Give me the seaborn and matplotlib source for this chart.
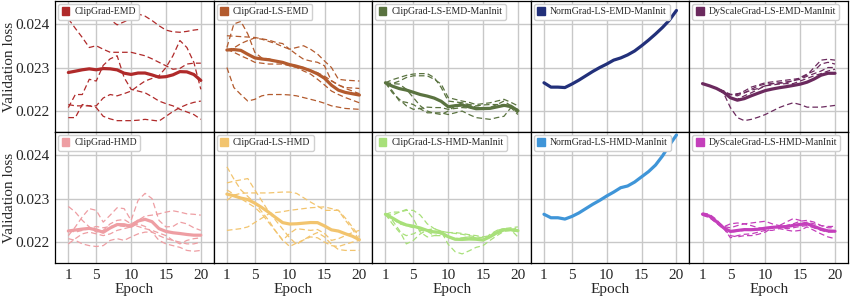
"""
Validation loss per epoch for the gradient-clipping variants, one panel per
method: dashed lines are single seeds, the thick line is their mean.
"""

import numpy as np
import pandas as pd
import seaborn as sns
from matplotlib import pyplot as plt
from matplotlib.patches import Patch
from matplotlib.ticker import FormatStrFormatter

# values are validation loss in units of 1e-3
epochs = list(range(1, 21))

clipgrad_emd = [
    [24.23, 24.33, 24.40, 24.42, 24.35, 24.23, 24.10, 23.98, 24.05, 24.12, 24.23, 24.18, 24.08, 23.96, 23.86, 23.82, 23.81, 23.83, 23.86, 23.88],
    [24.12, 23.90, 23.69, 23.46, 23.50, 23.42, 23.35, 23.35, 23.35, 23.35, 23.31, 23.27, 23.20, 23.12, 23.04, 22.96, 22.98, 23.08, 23.10, 23.10],
    [22.08, 22.38, 22.38, 22.73, 22.69, 23.05, 23.20, 23.27, 22.77, 22.50, 22.46, 22.42, 22.33, 22.23, 22.17, 22.12, 22.04, 21.98, 21.92, 21.81],
    [21.85, 21.85, 22.15, 22.12, 22.08, 21.88, 21.82, 21.78, 21.78, 21.78, 21.79, 21.81, 21.79, 21.77, 21.88, 21.99, 22.08, 22.15, 22.20, 22.23],
    [22.15, 22.12, 22.12, 22.12, 22.12, 22.30, 22.38, 22.35, 22.40, 22.46, 22.58, 22.69, 22.75, 22.81, 23.00, 23.27, 23.62, 23.46, 23.12, 22.50],
]
clipgrad_ls_emd = [
    [23.46, 24.00, 24.06, 23.77, 23.35, 23.22, 23.20, 23.15, 23.10, 23.08, 23.04, 23.00, 22.94, 22.88, 22.80, 22.70, 22.60, 22.52, 22.46, 22.40],
    [23.73, 23.72, 23.71, 23.70, 23.69, 23.66, 23.63, 23.58, 23.55, 23.42, 23.46, 23.50, 23.42, 23.31, 23.15, 23.00, 22.73, 22.71, 22.70, 22.69],
    [23.40, 23.45, 23.55, 23.62, 23.68, 23.65, 23.60, 23.55, 23.48, 23.42, 23.30, 23.19, 23.15, 23.12, 23.04, 22.69, 22.60, 22.54, 22.53, 22.52],
    [23.00, 22.54, 22.38, 22.23, 22.27, 22.35, 22.38, 22.38, 22.38, 22.37, 22.35, 22.31, 22.27, 22.23, 22.18, 22.12, 22.09, 22.06, 22.05, 22.04],
    [23.42, 23.35, 23.27, 23.20, 23.12, 23.10, 23.08, 23.08, 23.08, 23.04, 23.00, 22.92, 22.85, 22.73, 22.60, 22.46, 22.38, 22.31, 22.25, 22.19],
]
clipgrad_ls_emd_maninit = [
    [22.65, 22.72, 22.77, 22.82, 22.85, 22.86, 22.86, 22.77, 22.54, 22.23, 22.21, 22.19, 22.14, 22.09, 22.08, 22.08, 22.15, 22.23, 22.12, 22.00],
    [22.65, 22.63, 22.69, 22.77, 22.81, 22.81, 22.81, 22.73, 22.62, 22.31, 22.27, 22.23, 22.20, 22.15, 22.17, 22.19, 22.23, 22.27, 22.20, 22.12],
    [22.65, 22.46, 22.23, 22.20, 22.15, 22.05, 21.96, 21.96, 21.96, 21.92, 21.96, 22.00, 21.92, 21.85, 21.83, 21.81, 21.85, 21.88, 22.08, 21.96],
    [22.65, 22.42, 22.27, 22.12, 22.04, 22.06, 22.09, 22.08, 22.08, 22.04, 22.06, 22.08, 22.07, 22.06, 22.07, 22.08, 22.10, 22.12, 22.08, 22.04],
    [22.65, 22.63, 22.62, 22.50, 22.31, 22.12, 22.00, 21.95, 21.92, 22.00, 22.12, 22.19, 22.15, 22.12, 22.14, 22.15, 22.15, 22.15, 22.08, 21.92],
]
normgrad_ls_emd_maninit = [
    [22.65, 22.55, 22.55, 22.54, 22.62, 22.71, 22.81, 22.91, 23.00, 23.08, 23.17, 23.22, 23.29, 23.38, 23.50, 23.63, 23.77, 23.92, 24.09, 24.31],
]
dyscalegrad_ls_emd_maninit = [
    [22.63, 22.58, 22.52, 22.42, 22.38, 22.38, 22.46, 22.55, 22.60, 22.65, 22.67, 22.69, 22.71, 22.73, 22.75, 22.83, 23.00, 23.17, 23.19, 23.17],
    [22.63, 22.58, 22.52, 22.46, 22.38, 22.35, 22.42, 22.50, 22.58, 22.62, 22.63, 22.65, 22.67, 22.69, 22.77, 22.85, 22.92, 23.08, 23.12, 23.08],
    [22.63, 22.58, 22.52, 22.46, 22.38, 22.40, 22.42, 22.48, 22.52, 22.58, 22.63, 22.64, 22.65, 22.70, 22.73, 22.80, 22.86, 22.92, 23.00, 23.00],
    [22.63, 22.58, 22.52, 22.42, 22.08, 21.85, 21.78, 21.81, 21.86, 21.92, 22.00, 22.08, 22.14, 22.19, 22.15, 22.09, 22.09, 22.09, 22.11, 22.13],
    [22.63, 22.58, 22.52, 22.42, 22.31, 22.27, 22.35, 22.42, 22.50, 22.58, 22.60, 22.62, 22.63, 22.63, 22.69, 22.75, 22.81, 22.86, 22.92, 22.96],
]
clipgrad_hmd = [
    [22.82, 22.69, 22.50, 22.35, 22.23, 22.27, 22.42, 22.50, 22.52, 22.42, 22.50, 22.60, 22.62, 22.65, 22.69, 22.72, 22.69, 22.65, 22.64, 22.62],
    [22.15, 22.35, 22.58, 22.77, 22.73, 22.46, 22.62, 22.79, 22.77, 22.50, 22.96, 23.12, 23.00, 22.50, 22.35, 22.36, 22.46, 22.42, 22.33, 22.27],
    [21.96, 22.08, 22.19, 22.23, 22.19, 22.15, 22.19, 22.27, 22.31, 22.35, 22.42, 22.36, 22.23, 22.04, 21.96, 21.92, 21.88, 21.81, 21.79, 21.81],
    [22.08, 22.04, 21.96, 21.92, 21.90, 21.92, 22.04, 22.08, 22.04, 22.12, 22.19, 22.23, 22.23, 22.15, 22.08, 22.04, 22.00, 21.96, 21.96, 22.00],
    [22.27, 22.23, 22.27, 22.31, 22.36, 22.33, 22.36, 22.38, 22.36, 22.42, 22.36, 22.31, 22.27, 22.21, 22.15, 22.04, 21.96, 22.04, 22.08, 22.10],
]
clipgrad_ls_hmd = [
    [23.73, 23.45, 23.20, 23.05, 22.90, 22.70, 22.50, 22.25, 22.04, 22.20, 22.31, 22.29, 22.27, 22.29, 22.20, 22.04, 22.08, 22.15, 22.22, 22.27],
    [23.36, 23.40, 23.43, 23.46, 23.20, 22.95, 22.70, 22.50, 22.30, 22.10, 21.95, 22.05, 22.15, 22.22, 22.12, 21.95, 21.83, 21.81, 21.81, 21.81],
    [22.96, 23.08, 23.12, 23.13, 23.13, 23.13, 23.13, 23.14, 23.15, 23.15, 23.12, 23.02, 22.92, 22.83, 22.73, 22.73, 22.73, 22.50, 22.30, 22.04],
    [22.27, 22.29, 22.31, 22.35, 22.45, 22.55, 22.65, 22.68, 22.70, 22.73, 22.75, 22.77, 22.79, 22.80, 22.81, 22.77, 22.73, 22.55, 22.35, 22.12],
    [23.20, 23.10, 23.00, 22.90, 22.80, 22.65, 22.45, 22.25, 22.05, 21.90, 21.98, 22.05, 22.12, 22.10, 22.00, 21.92, 21.90, 21.95, 22.00, 22.04],
]
clipgrad_ls_hmd_maninit = [
    [22.64, 22.69, 22.69, 22.73, 22.73, 22.62, 22.42, 22.31, 22.25, 22.22, 22.22, 22.20, 22.17, 22.15, 22.12, 22.15, 22.27, 22.31, 22.33, 22.35],
    [22.64, 22.62, 22.69, 22.75, 22.54, 22.23, 22.12, 22.15, 22.19, 22.12, 22.05, 22.10, 22.12, 22.10, 22.05, 22.12, 22.19, 22.27, 22.28, 22.12],
    [22.64, 22.50, 22.27, 21.96, 22.04, 22.19, 22.28, 22.31, 22.25, 21.95, 21.78, 21.73, 21.80, 21.88, 21.92, 22.04, 22.15, 22.25, 22.27, 22.28],
    [22.64, 22.42, 22.23, 22.15, 22.19, 22.27, 22.25, 22.15, 22.15, 22.12, 22.08, 22.10, 22.12, 22.08, 22.05, 22.18, 22.27, 22.31, 22.27, 22.23],
    [22.64, 22.54, 22.42, 22.38, 22.33, 22.31, 22.27, 22.25, 22.25, 22.22, 22.20, 22.18, 22.15, 22.12, 22.10, 22.12, 22.21, 22.27, 22.28, 22.33],
]
normgrad_ls_hmd_maninit = [
    [22.64, 22.56, 22.56, 22.53, 22.59, 22.67, 22.77, 22.87, 22.96, 23.06, 23.15, 23.25, 23.29, 23.38, 23.50, 23.62, 23.77, 23.98, 24.23, 24.46],
]
dyscalegrad_ls_hmd_maninit = [
    [22.67, 22.64, 22.52, 22.33, 22.10, 22.15, 22.18, 22.19, 22.23, 22.27, 22.27, 22.31, 22.28, 22.25, 22.27, 22.35, 22.27, 22.19, 22.12, 22.08],
    [22.64, 22.58, 22.46, 22.35, 22.42, 22.44, 22.42, 22.44, 22.46, 22.48, 22.42, 22.38, 22.36, 22.38, 22.42, 22.46, 22.42, 22.38, 22.36, 22.36],
    [22.64, 22.59, 22.44, 22.31, 22.15, 22.12, 22.15, 22.15, 22.18, 22.23, 22.33, 22.38, 22.46, 22.54, 22.50, 22.42, 22.33, 22.27, 22.23, 22.25],
    [22.64, 22.62, 22.50, 22.36, 22.33, 22.38, 22.42, 22.38, 22.33, 22.31, 22.33, 22.35, 22.38, 22.42, 22.48, 22.50, 22.46, 22.38, 22.33, 22.33],
    [22.62, 22.56, 22.44, 22.31, 22.23, 22.25, 22.27, 22.27, 22.28, 22.31, 22.35, 22.33, 22.31, 22.33, 22.36, 22.38, 22.33, 22.28, 22.25, 22.23],
]

method_names = [
    'ClipGrad-EMD', 'ClipGrad-LS-EMD', 'ClipGrad-LS-EMD-ManInit',
    'NormGrad-LS-EMD-ManInit', 'DyScaleGrad-LS-EMD-ManInit',
    'ClipGrad-HMD', 'ClipGrad-LS-HMD', 'ClipGrad-LS-HMD-ManInit',
    'NormGrad-LS-HMD-ManInit', 'DyScaleGrad-LS-HMD-ManInit',
]
method_runs = [
    clipgrad_emd, clipgrad_ls_emd, clipgrad_ls_emd_maninit,
    normgrad_ls_emd_maninit, dyscalegrad_ls_emd_maninit,
    clipgrad_hmd, clipgrad_ls_hmd, clipgrad_ls_hmd_maninit,
    normgrad_ls_hmd_maninit, dyscalegrad_ls_hmd_maninit,
]
method_colors = [
    '#b02a2a', '#b35b2e', '#5a7340', '#22307a', '#6b2a5e',
    '#ee9ea3', '#f2c46e', '#a8e07a', '#3f95d8', '#c43fbb',
]


def build_frame(runs):
    """Long-form table: one row per (seed, epoch)."""
    rows = []
    for seed, values in enumerate(runs):
        for ep, v in zip(epochs, values):
            rows.append({'seed': seed, 'epoch': ep, 'loss': v * 1e-3})
    return pd.DataFrame(rows)


def main():
    sns.set_theme(style="whitegrid")
    plt.rcParams['font.family'] = ['Liberation Serif', 'DejaVu Serif']

    fig, axes = plt.subplots(2, 5, figsize=(8.51, 3.02), dpi=100,
                             sharex=True, sharey=True)
    fig.subplots_adjust(left=0.065, right=0.9965, top=0.997, bottom=0.129,
                        wspace=0, hspace=0)

    for i, ax in enumerate(axes.flat):
        df = build_frame(method_runs[i])
        color = method_colors[i]
        # single seeds
        sns.lineplot(data=df, x='epoch', y='loss', units='seed', estimator=None,
                     color=color, lw=0.9, linestyle=(0, (4.5, 2.5)), ax=ax)
        # mean across seeds
        sns.lineplot(data=df, x='epoch', y='loss', errorbar=None,
                     color=color, lw=2.3, ax=ax)

        ax.set_xlim(-0.87, 21.87)
        ax.set_ylim(0.02152, 0.02453)
        ax.set_xticks([1, 5, 10, 15, 20])
        ax.set_yticks([0.022, 0.023, 0.024])
        ax.yaxis.set_major_formatter(FormatStrFormatter('%.3f'))
        ax.grid(True, color='#c8c8c8', lw=1.0)
        ax.tick_params(length=0, labelsize=11, pad=4)
        for sp in ax.spines.values():
            sp.set_color('black')
            sp.set_linewidth(0.9)

        ax.set_xlabel('Epoch' if i >= 5 else '', fontsize=11, labelpad=1)
        ax.set_ylabel('Validation loss' if i % 5 == 0 else '', fontsize=11)
        ax.yaxis.set_label_coords(-0.245, 0.5)

        ax.legend(handles=[Patch(facecolor=color, edgecolor=color)],
                  labels=[method_names[i]], loc='upper left', fontsize=7,
                  handlelength=0.8, handleheight=0.8, handletextpad=0.5,
                  borderpad=0.35, borderaxespad=0.3, framealpha=1,
                  edgecolor='#d0d0d0', fancybox=True)

    fig.savefig('out.png', dpi=100)


if __name__ == "__main__":
    main()
